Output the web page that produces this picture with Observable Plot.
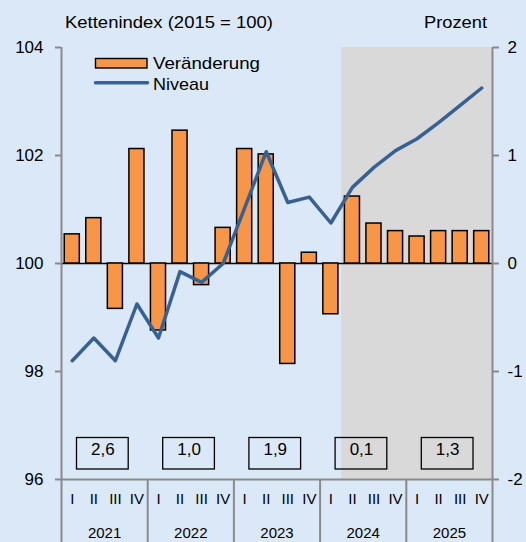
<!DOCTYPE html>
<html>
<head>
<meta charset="utf-8">
<script src="https://cdn.jsdelivr.net/npm/d3@7"></script>
<script src="https://cdn.jsdelivr.net/npm/@observablehq/plot@0.6"></script>
<style>
  html, body { margin: 0; padding: 0; background: #dbe8f7; }
  #wrap { position: relative; width: 526px; height: 542px; overflow: hidden;
          font-family: "Liberation Sans", Arial, sans-serif; background: #dbe8f7; }
  #wrap > svg { position: absolute; left: 0; top: 0; }
  .overlay { pointer-events: none; }
</style>
</head>
<body>
<div id="wrap"></div>
<script>
// ---- data ----
const years = ["2021", "2022", "2023", "2024", "2025"];
const quarterLabels = ["I", "II", "III", "IV"];
// Veränderung gegen Vorquartal, Prozent (rechte Achse)
const changePct = [0.27, 0.42, -0.42, 1.06, -0.62, 1.23, -0.20, 0.33, 1.06, 1.01,
                   -0.93, 0.10, -0.47, 0.62, 0.37, 0.30, 0.25, 0.30, 0.30, 0.30];
// Niveau, Kettenindex 2015 = 100 (linke Achse)
const level = [98.20, 98.62, 98.20, 99.25, 98.62, 99.85, 99.65, 100.00, 101.03, 102.07,
               101.13, 101.23, 100.75, 101.41, 101.78, 102.09, 102.31, 102.61, 102.93, 103.25];
// Jahresveränderung (Kästchen)
const annualLabels = ["2,6", "1,0", "1,9", "0,1", "1,3"];
const forecastFrom = "2024 II";
const leftTicks = [96, 98, 100, 102, 104];
const rightDomain = [-2, 2];
const leftDomain = [96, 104];

// ---- derived table ----
const data = changePct.map((p, i) => ({
  i,
  key: years[Math.floor(i / 4)] + " " + quarterLabels[i % 4],
  q: quarterLabels[i % 4],
  pct: p,
  level: level[i]
}));
const forecastIndex = data.findIndex(d => d.key === forecastFrom);
const n = data.length;
const yearRows = years.map((y, k) => ({y, k, start: k * 4, end: k * 4 + 4, label: annualLabels[k]}));
const boundaries = d3.range(0, n + 1, 4);

// map right-axis percent onto left-axis index scale
const pctToLeft = p => leftDomain[0] + (p - rightDomain[0]) * (leftDomain[1] - leftDomain[0]) / (rightDomain[1] - rightDomain[0]);
const leftToPct = v => rightDomain[0] + (v - leftDomain[0]) * (rightDomain[1] - rightDomain[0]) / (leftDomain[1] - leftDomain[0]);

const orange = "#f79646";
const blue = "#386193";
const axisGray = "#8a8a8a";
const shade = "#d9d9d9";
const barPad = 0.15;

const chart = Plot.plot({
  width: 526,
  height: 542,
  marginLeft: 61,
  marginRight: 34,
  marginTop: 47,
  marginBottom: 63,
  style: { background: "transparent", fontFamily: "'Liberation Sans', Arial, sans-serif", fontSize: "16px", color: "#000", overflow: "visible" },
  x: { domain: [0, n], axis: null },
  y: { domain: leftDomain, axis: null },
  marks: [
    // forecast shading
    Plot.rect([{x1: forecastIndex, x2: n}], { x1: "x1", x2: "x2", y1: () => leftDomain[0], y2: () => leftDomain[1], fill: shade }),
    // zero line
    Plot.ruleY([pctToLeft(0)], { stroke: "#000", strokeWidth: 1.5 }),
    // bars
    Plot.rect(data, {
      x1: d => d.i + barPad, x2: d => d.i + 1 - barPad,
      y1: () => pctToLeft(0), y2: d => pctToLeft(d.pct),
      fill: orange, stroke: "#000", strokeWidth: 1.5
    }),
    // level line
    Plot.line(data, { x: d => d.i + 0.5, y: "level", stroke: blue, strokeWidth: 3.5, strokeLinejoin: "round", strokeLinecap: "round" }),
    // axis frame lines
    Plot.ruleX([0, n], { stroke: axisGray, strokeWidth: 2 }),
    Plot.ruleY([leftDomain[0]], { stroke: axisGray, strokeWidth: 2 }),
    // year separators below plot
    Plot.axisX(boundaries, { tickSize: 63, tickFormat: () => "", stroke: axisGray, strokeWidth: 2 }),
    // left axis
    Plot.axisY(leftTicks, { anchor: "left", tickSize: 6, tickPadding: 12, tickFormat: d => String(d), stroke: axisGray, strokeWidth: 2, fill: "#000", fontSize: 17, label: null }),
    // right axis
    Plot.axisY(leftTicks, { anchor: "right", tickSize: 6, tickPadding: 9, tickFormat: d => String(leftToPct(d)), stroke: axisGray, strokeWidth: 2, fill: "#000", fontSize: 17, label: null }),
    // quarter labels
    Plot.text(data, { x: d => d.i + 0.5, text: "q", frameAnchor: "bottom", dy: 24, fontSize: 15, fill: "#000" }),
    // year labels
    Plot.text(yearRows, { x: d => d.start + 2, text: "y", frameAnchor: "bottom", dy: 58, fontSize: 15, fill: "#000" }),
    // annual boxes
    Plot.rect(yearRows, { x1: "start", x2: "end", y1: () => leftDomain[0], y2: () => leftDomain[1],
      insetLeft: 15.5, insetRight: 19, insetTop: 390.5, insetBottom: 10, fill: "none", stroke: "#000", strokeWidth: 1.3 }),
    Plot.text(yearRows, { x: d => d.start + 2, text: "label", frameAnchor: "bottom", dy: -25, dx: -1.75, fontSize: 17, fill: "#000" })
  ]
});

const wrap = document.getElementById("wrap");
wrap.appendChild(chart);

// titles and legend overlay
const ns = "http://www.w3.org/2000/svg";
const ov = document.createElementNS(ns, "svg");
ov.setAttribute("width", 526);
ov.setAttribute("height", 542);
ov.setAttribute("class", "overlay");
ov.innerHTML = `
  <g font-family="'Liberation Sans', Arial, sans-serif" font-size="17" fill="#000">
    <text x="65" y="28" textLength="208" lengthAdjust="spacingAndGlyphs">Kettenindex (2015 = 100)</text>
    <text x="424" y="28" textLength="63" lengthAdjust="spacingAndGlyphs">Prozent</text>
    <rect x="95.5" y="58.5" width="51.5" height="9.5" fill="${orange}" stroke="#000" stroke-width="1.4"></rect>
    <text x="153" y="68.5" textLength="107" lengthAdjust="spacingAndGlyphs">Veränderung</text>
    <line x1="95.5" x2="147.5" y1="82.7" y2="82.7" stroke="${blue}" stroke-width="3.5" stroke-linecap="round"></line>
    <text x="153" y="90" textLength="56" lengthAdjust="spacingAndGlyphs">Niveau</text>
  </g>`;
wrap.appendChild(ov);
</script>
</body>
</html>
